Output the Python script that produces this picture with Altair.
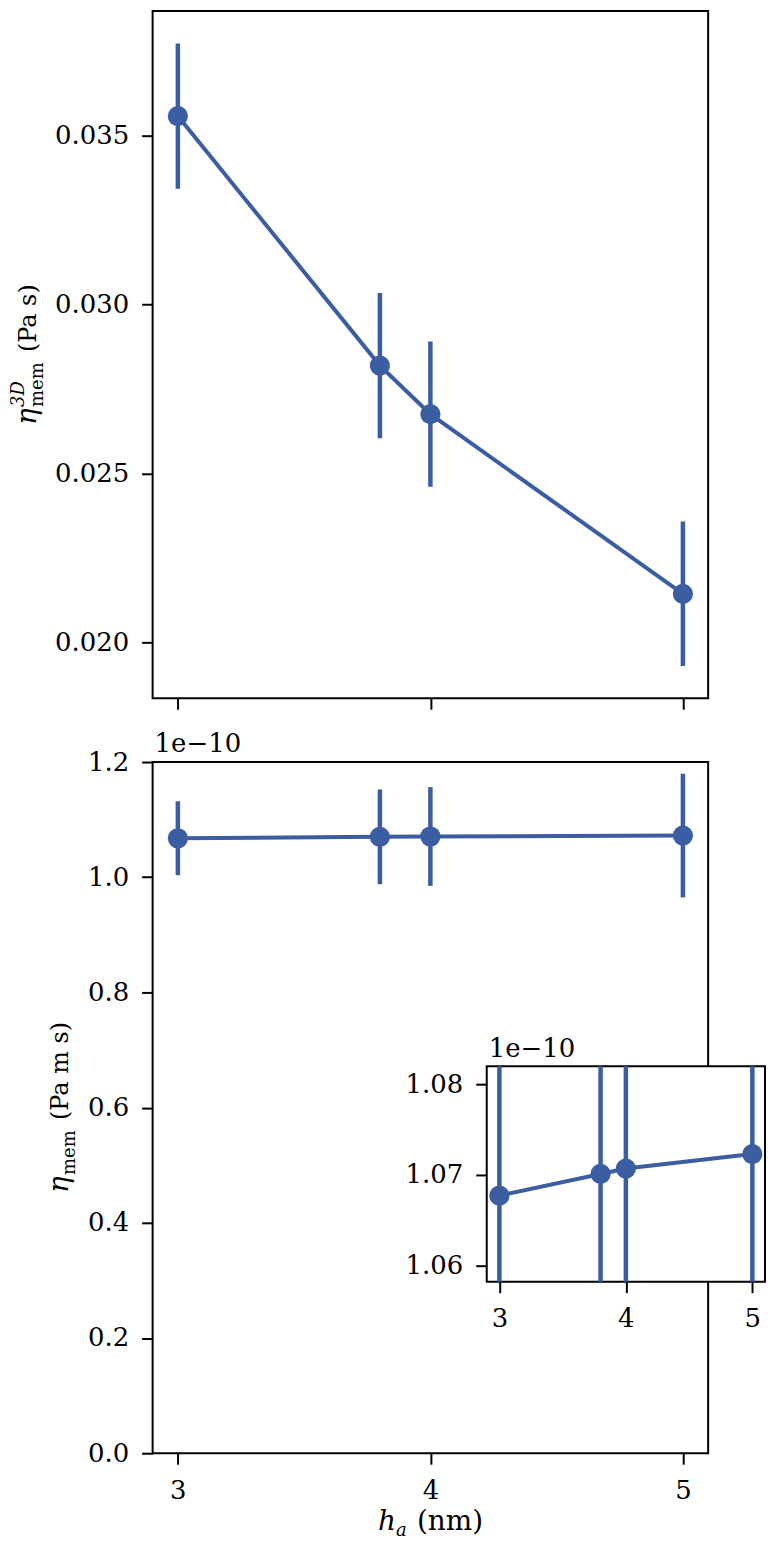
import altair as alt
import pandas as pd

# ---- data ----
h_a = [3.0, 3.8, 4.0, 5.0]
eta3d = [0.03558, 0.02819, 0.02675, 0.02143]          # Pa s
eta3d_err = [0.00215, 0.00215, 0.00215, 0.00214]
eta_mem = [1.0677, 1.0701, 1.0707, 1.0723]            # x 1e-10 Pa m s
eta_mem_err = [0.0642, 0.0822, 0.0857, 0.1074]

x_ticks = [3, 4, 5]
top_y_ticks = [0.020, 0.025, 0.030, 0.035]
bot_y_ticks = [0.0, 0.2, 0.4, 0.6, 0.8, 1.0, 1.2]
inset_y_ticks = [1.06, 1.07, 1.08]
offset_label = "1e\u221210"

COLOR = "#3b5da2"
FONT = "DejaVu Serif"

top_df = pd.DataFrame({
    "h": h_a, "v": eta3d,
    "lo": [v - e for v, e in zip(eta3d, eta3d_err)],
    "hi": [v + e for v, e in zip(eta3d, eta3d_err)],
})
bot_df = pd.DataFrame({
    "h": h_a, "v": eta_mem,
    "lo": [v - e for v, e in zip(eta_mem, eta_mem_err)],
    "hi": [v + e for v, e in zip(eta_mem, eta_mem_err)],
})
one = pd.DataFrame({"a": [0]})

W = 557
H_TOP = 689
H_BOT = 693
# inset placement inside the bottom plot (pixels)
IX0, IX1, IY0, IY1 = 335, 614, 305, 521

xdom = [2.9, 5.1]


def txt(text, x, y, size, angle=0, italic=False, font=FONT):
    return alt.Chart(one).mark_text(
        text=text, font=font, fontSize=size, angle=angle,
        fontStyle="italic" if italic else "normal",
        align="left", baseline="alphabetic", color="black",
    ).encode(x=alt.value(x), y=alt.value(y))


# ---------------- top panel ----------------
tx = alt.X("h:Q", scale=alt.Scale(domain=xdom, nice=False, zero=False),
           axis=alt.Axis(values=x_ticks, labels=False, title=None, domain=False))
ty_scale = alt.Scale(domain=[0.01834, 0.03869], nice=False, zero=False)
ty = alt.Y("v:Q", scale=ty_scale,
           axis=alt.Axis(values=top_y_ticks, format=".3f", title=None, domain=False))

frame_top = alt.Chart(one).mark_rect(fill=None, stroke="black", strokeWidth=2).encode(
    x=alt.value(0), x2=alt.value(W), y=alt.value(0), y2=alt.value(H_TOP))
top_rules = alt.Chart(top_df).mark_rule(color=COLOR, strokeWidth=4.5).encode(
    x=tx, y=alt.Y("lo:Q", scale=ty_scale), y2="hi:Q")
top_line = alt.Chart(top_df).mark_line(color=COLOR, strokeWidth=4).encode(x=tx, y=ty)
top_pts = alt.Chart(top_df).mark_circle(color=COLOR, size=410, opacity=1).encode(x=tx, y=ty)

top_title = [
    txt("\u03b7", -117, 415, 28, 270, italic=True),
    txt("mem", -110, 397, 18, 270),
    txt("3D", -129, 397, 18, 270, italic=True),
    txt("(Pa s)", -117, 342, 24, 270),
]

top = alt.layer(frame_top, top_rules, top_line, top_pts, *top_title).properties(
    width=W, height=H_TOP)

# ---------------- bottom panel ----------------
bx = alt.X("h:Q", scale=alt.Scale(domain=xdom, nice=False, zero=False),
           axis=alt.Axis(values=x_ticks, format="d", title=None, domain=False))
by_scale = alt.Scale(domain=[0.0, 1.2], nice=False, zero=False)
by = alt.Y("v:Q", scale=by_scale,
           axis=alt.Axis(values=bot_y_ticks, format=".1f", title=None, domain=False))

frame_bot = alt.Chart(one).mark_rect(fill=None, stroke="black", strokeWidth=2).encode(
    x=alt.value(0), x2=alt.value(W), y=alt.value(0), y2=alt.value(H_BOT))
bot_rules = alt.Chart(bot_df).mark_rule(color=COLOR, strokeWidth=4.5).encode(
    x=bx, y=alt.Y("lo:Q", scale=by_scale), y2="hi:Q")
bot_line = alt.Chart(bot_df).mark_line(color=COLOR, strokeWidth=4).encode(x=bx, y=by)
bot_pts = alt.Chart(bot_df).mark_circle(color=COLOR, size=410, opacity=1).encode(x=bx, y=by)
main_layer = alt.layer(bot_rules, bot_line, bot_pts)

# inset
ix_scale = alt.Scale(domain=xdom, range=[IX0, IX1], nice=False, zero=False)
iy_scale = alt.Scale(domain=[1.0582, 1.0820], range=[IY1, IY0], nice=False,
                     zero=False, clamp=True)
ix = alt.X("h:Q", scale=ix_scale,
           axis=alt.Axis(orient="bottom", offset=-(H_BOT - IY1), values=x_ticks,
                         format="d", title=None, domain=False, zindex=1))
iy = alt.Y("v:Q", scale=iy_scale,
           axis=alt.Axis(orient="left", offset=-IX0, values=inset_y_ticks,
                         format=".2f", title=None, domain=False, zindex=1))

inset_bg = alt.Chart(one).mark_rect(fill="white", stroke="black", strokeWidth=2).encode(
    x=alt.value(IX0), x2=alt.value(IX1), y=alt.value(IY0), y2=alt.value(IY1))
in_rules = alt.Chart(bot_df).mark_rule(color=COLOR, strokeWidth=4.5).encode(
    x=ix, y=alt.Y("lo:Q", scale=iy_scale), y2="hi:Q")
in_line = alt.Chart(bot_df).mark_line(color=COLOR, strokeWidth=4).encode(x=ix, y=iy)
in_pts = alt.Chart(bot_df).mark_circle(color=COLOR, size=410, opacity=1).encode(x=ix, y=iy)
inset_layer = alt.layer(in_rules, in_line, in_pts)

txt_main = txt(offset_label, 2, -10, 26)
txt_inset = txt(offset_label, IX0 + 2, IY0 - 9, 26)

bot_title = [
    txt("\u03b7", -85, 432, 28, 270, italic=True),
    txt("mem", -78, 414, 18, 270),
    txt("(Pa m s)", -85, 359, 24, 270),
]
x_title = [
    txt("h", 226, 770, 28, italic=True),
    txt("a", 244, 776, 18, italic=True),
    txt("(nm)", 265, 770, 28),
]

bottom = alt.layer(frame_bot, main_layer, inset_bg, inset_layer, txt_main, txt_inset,
                   *bot_title, *x_title).resolve_scale(
    x="independent", y="independent").properties(width=W, height=H_BOT)

chart = alt.vconcat(top, bottom, spacing=64, bounds="flush").properties(
    padding={"left": 2, "top": 0, "right": 0, "bottom": 0}
).configure_view(stroke=None).configure_axis(
    grid=False,
    labelFont=FONT, labelFontSize=26, labelColor="black", labelPadding=13,
    tickColor="black", tickWidth=2, tickSize=11,
)

chart.save("out.html", embed_options={"renderer": "svg", "actions": False})
